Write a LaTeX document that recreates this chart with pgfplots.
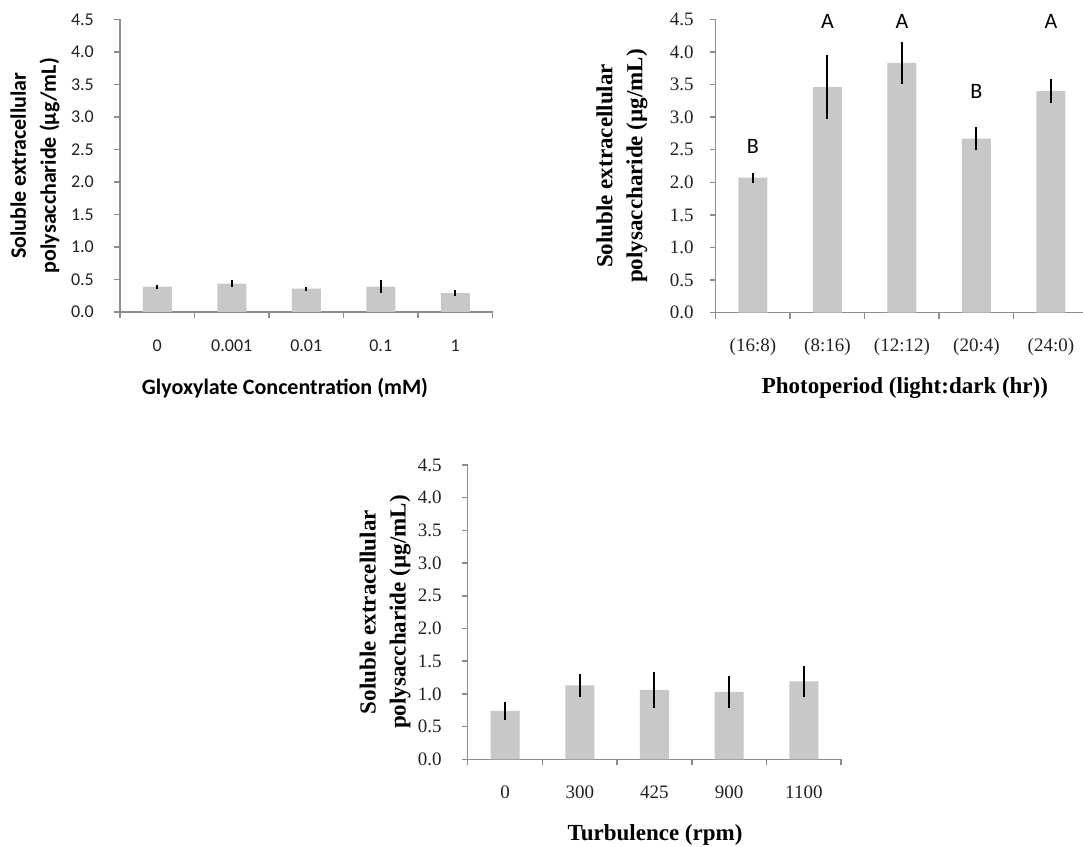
\documentclass[border=0pt]{standalone}
\usepackage{pgfplots}
\pgfplotsset{compat=1.18}
\usepackage{fontspec}
\setmainfont{Liberation Serif}
\newfontfamily\carlito{Carlito}
\newfontfamily\tnr{Liberation Serif}
\definecolor{bargray}{HTML}{C8C8C8}
\definecolor{axgray}{HTML}{8C8C8C}
\definecolor{txt}{HTML}{222222}
\pgfplotsset{
  myax/.style={
    scale only axis,
    anchor=south west,
    ymin=0, ymax=4.5,
    xmin=-0.5, xmax=4.5,
    ytick={0,0.5,...,4.5},
    axis lines*=left,
    axis line style={axgray, line width=1.5pt, -},
    tick style={axgray, line width=1.5pt},
    major tick length=6pt,
    minor tick length=6pt,
    tick align=outside,
    xtick={0,1,2,3,4},
    major x tick style={draw=none},
    minor xtick={-0.5,0.5,1.5,2.5,3.5,4.5},
    /pgf/number format/assume math mode=true,
    /pgf/number format/fixed,
    /pgf/number format/fixed zerofill,
    /pgf/number format/precision=1,
    ybar, bar width=29pt,
    clip=false,
    ylabel={Soluble extracellular\\polysaccharide (µg/mL)},
  },
  mybar/.style={fill=bargray, draw=none,
    error bars/.cd, y dir=both, y explicit, error mark=none,
    error bar style={line width=2pt, black}},
}
\begin{document}
\begin{tikzpicture}
\useasboundingbox (0,0) rectangle (1083pt,846pt);
% Plot 1
\begin{axis}[myax, at={(120pt,534pt)}, width=372.5pt, height=292.7pt,
  tick label style={font=\fontsize{18}{18}\carlito, text=txt},
  xticklabels={0,0.001,0.01,0.1,1},
  xticklabel style={anchor=center, yshift=-28pt},
  yticklabel style={anchor=east, inner sep=0pt, xshift=-20pt},
  xlabel={Glyoxylate Concentration (mM)},
  xlabel style={at={(axis description cs:0.443,-0.26)}, anchor=center, font=\fontsize{22}{22}\carlito\bfseries, text=black},
  ylabel style={at={(axis description cs:-0.228,0.5)}, anchor=center, align=center, font=\fontsize{22}{30}\carlito\bfseries, text=black},
]
\addplot[mybar] coordinates {
  (0,0.39) +- (0,0.03)
  (1,0.435) +- (0,0.05)
  (2,0.36) +- (0,0.03)
  (3,0.39) +- (0,0.10)
  (4,0.29) +- (0,0.05)
};
\end{axis}
% Plot 2
\begin{axis}[myax, at={(715.7pt,533.3pt)}, width=372.5pt, height=293.4pt,
  tick label style={font=\fontsize{19}{19}\tnr, text=txt},
  xticklabels={(16:8),(8:16),(12:12),(20:4),(24:0)},
  xticklabel style={anchor=center, yshift=-28.5pt},
  yticklabel style={anchor=east, inner sep=0pt, xshift=-16pt},
  xlabel={Photoperiod (light:dark (hr))},
  xlabel style={at={(axis description cs:0.508,-0.257)}, anchor=center, font=\fontsize{23}{23}\tnr\bfseries, text=black},
  ylabel style={at={(axis description cs:-0.2515,0.5)}, anchor=center, align=center, font=\fontsize{23}{30}\tnr\bfseries, text=black},
]
\addplot[mybar] coordinates {
  (0,2.07) +- (0,0.08)
  (1,3.46) +- (0,0.49)
  (2,3.83) +- (0,0.32)
  (3,2.67) +- (0,0.18)
  (4,3.40) +- (0,0.18)
};
\node[font=\fontsize{22}{22}\carlito] at (axis cs:0,2.55) {B};
\node[font=\fontsize{22}{22}\carlito] at (axis cs:1,4.46) {A};
\node[font=\fontsize{22}{22}\carlito] at (axis cs:2,4.46) {A};
\node[font=\fontsize{22}{22}\carlito] at (axis cs:3,3.39) {B};
\node[font=\fontsize{22}{22}\carlito] at (axis cs:4,4.46) {A};
\end{axis}
% Plot 3
\begin{axis}[myax, at={(467.7pt,86.7pt)}, width=373.5pt, height=294.3pt,
  tick label style={font=\fontsize{19}{19}\tnr, text=txt},
  xticklabels={0,300,425,900,1100},
  xticklabel style={anchor=center, yshift=-26.5pt},
  yticklabel style={anchor=east, inner sep=0pt, xshift=-20pt},
  xlabel={Turbulence (rpm)},
  xlabel style={at={(axis description cs:0.5015,-0.257)}, anchor=center, font=\fontsize{23}{23}\tnr\bfseries, text=black},
  ylabel style={at={(axis description cs:-0.221,0.5)}, anchor=center, align=center, font=\fontsize{23}{30}\tnr\bfseries, text=black},
]
\addplot[mybar] coordinates {
  (0,0.74) +- (0,0.14)
  (1,1.13) +- (0,0.17)
  (2,1.06) +- (0,0.27)
  (3,1.03) +- (0,0.25)
  (4,1.19) +- (0,0.24)
};
\end{axis}
\end{tikzpicture}
\end{document}
